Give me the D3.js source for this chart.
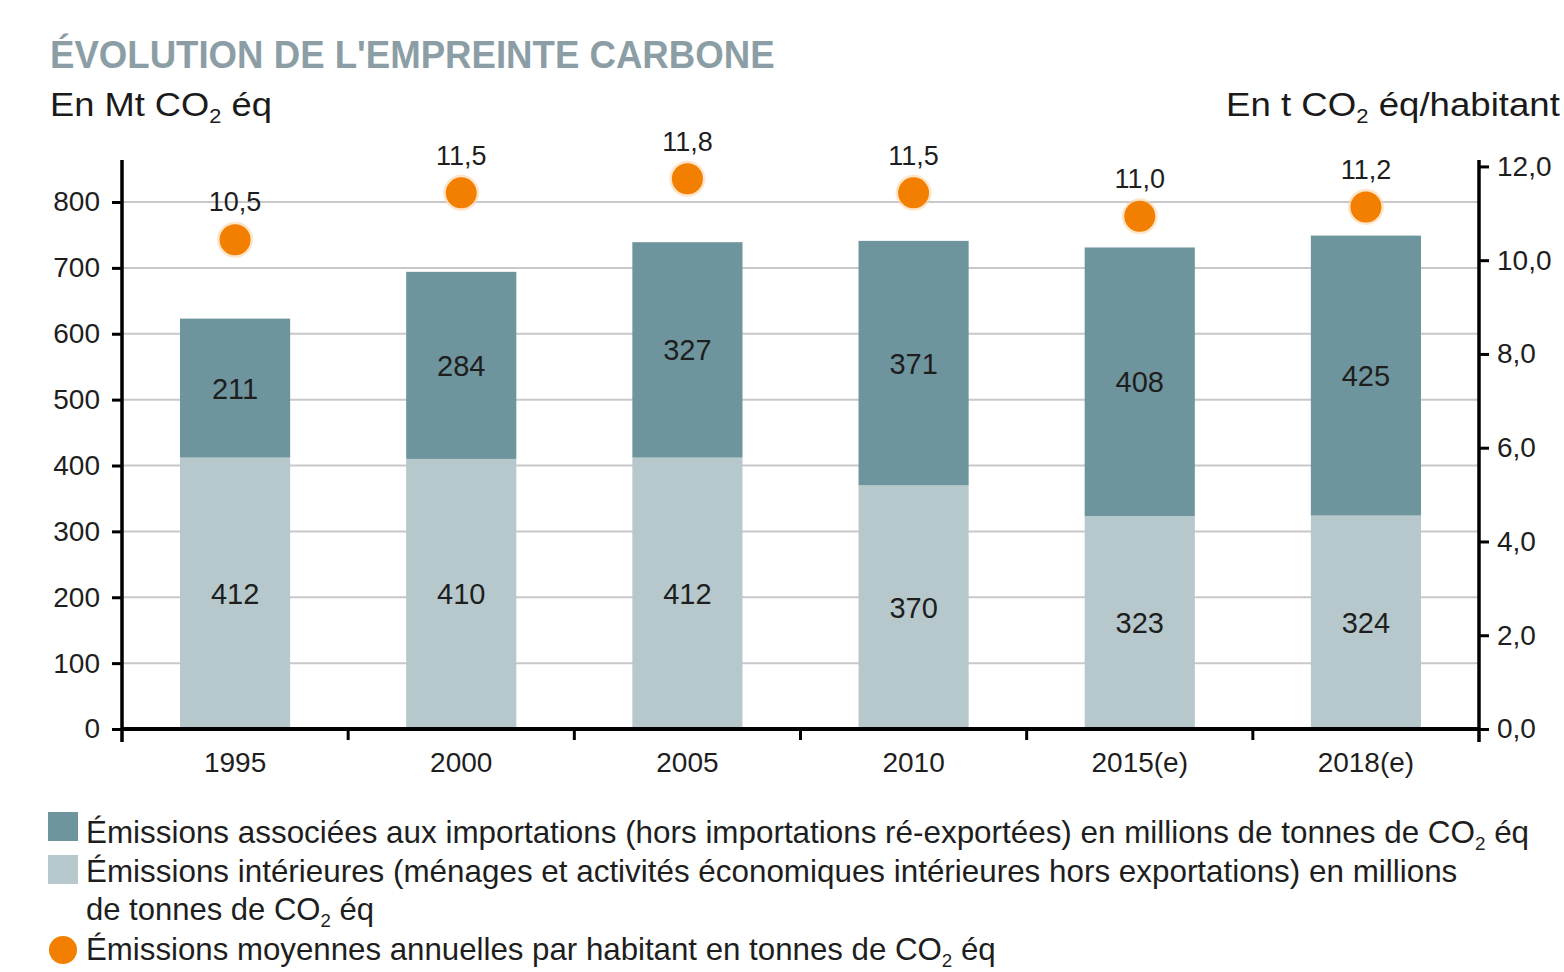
<!DOCTYPE html>
<html><head><meta charset="utf-8">
<script src="https://cdn.jsdelivr.net/npm/d3@7"></script>
<style>
html,body{margin:0;padding:0;background:#fff;}
svg{display:block;font-family:"Liberation Sans",Arial,sans-serif;}
</style></head>
<body>
<svg id="chart" width="1564" height="972"></svg>
<script>
// ---- data ----
const categories = ["1995", "2000", "2005", "2010", "2015(e)", "2018(e)"];
const importations = [211, 284, 327, 371, 408, 425];
const interieures = [412, 410, 412, 370, 323, 324];
const parHabitant = [10.5, 11.5, 11.8, 11.5, 11.0, 11.2];
const leftTicks = [0, 100, 200, 300, 400, 500, 600, 700, 800];
const rightTicks = [0, 2, 4, 6, 8, 10, 12];
const titleText = "ÉVOLUTION DE L'EMPREINTE CARBONE";
const legendLabels = [
  ["Émissions associées aux importations (hors importations ré-exportées) en millions de tonnes de CO", "2", " éq"],
  ["Émissions intérieures (ménages et activités économiques intérieures hors exportations) en millions"],
  ["de tonnes de CO", "2", " éq"],
  ["Émissions moyennes annuelles par habitant en tonnes de CO", "2", " éq"]
];

// ---- style ----
const colDark = "#6e959d", colLight = "#b6c8cc", colOrange = "#f27f00";
const colGrid = "#c8c8c8", colTitle = "#8c9ea5";

const svg = d3.select("#chart");
svg.append("rect").attr("width", 1564).attr("height", 972).attr("fill", "#fff");

const L = 122, R = 1479, Y0 = 729;
const fr = d3.formatLocale({decimal: ",", thousands: " ", grouping: [3], currency: ["", "€"]});
const f1 = fr.format(".1f");

const x = d3.scaleBand().domain(categories).range([L, R]).paddingInner(0.513).paddingOuter(0.2565);
const yL = d3.scaleLinear().domain([0, 800]).range([Y0, 202]);
const yR = d3.scaleLinear().domain([0, 12]).range([Y0, yL(854)]);

// text helper with subscript and horizontal fit
function richText(g, parts, size, weight, fill) {
  const t = g.append("text").attr("font-size", size).attr("font-weight", weight || "normal").attr("fill", fill || "#1a1a1a");
  parts.forEach((p, i) => {
    if (i % 2 === 1) {
      t.append("tspan").attr("font-size", size * 0.6).attr("dy", size * 0.22).text(p);
    } else {
      const ts = t.append("tspan").text(p);
      if (i > 0) ts.attr("dy", -size * 0.22);
    }
  });
  return t;
}
function fit(t, x0, yb, width, anchorRight) {
  const w = t.node().getComputedTextLength();
  const k = width / w;
  const tx = anchorRight ? x0 - width : x0;
  t.attr("transform", `translate(${tx},${yb}) scale(${k},1)`);
}

// title
const tt = richText(svg, [titleText], 38, "bold", colTitle);
fit(tt, 50, 68, 725);
// unit labels
const ul = richText(svg, ["En Mt CO", "2", " éq"], 34, "normal", "#1a1a1a");
fit(ul, 50, 116, 222);
const ur = richText(svg, ["En t CO", "2", " éq/habitant"], 34, "normal", "#1a1a1a");
fit(ur, 1560, 116, 334, true);

// gridlines
svg.append("g").selectAll("line").data(leftTicks.filter(d => d > 0)).join("line")
  .attr("x1", L).attr("x2", R).attr("y1", d => yL(d)).attr("y2", d => yL(d))
  .attr("stroke", colGrid).attr("stroke-width", 2);

// bars
const bars = svg.append("g");
categories.forEach((c, i) => {
  bars.append("rect").attr("x", x(c)).attr("width", x.bandwidth())
    .attr("y", yL(interieures[i])).attr("height", Y0 - yL(interieures[i])).attr("fill", colLight);
  bars.append("rect").attr("x", x(c)).attr("width", x.bandwidth())
    .attr("y", yL(interieures[i] + importations[i])).attr("height", yL(interieures[i]) - yL(interieures[i] + importations[i]))
    .attr("fill", colDark);
  bars.append("text").attr("x", x(c) + x.bandwidth() / 2).attr("y", yL(interieures[i] / 2))
    .attr("text-anchor", "middle").attr("dy", "0.36em").attr("font-size", 29).attr("fill", "#1e1e1e")
    .text(interieures[i]);
  bars.append("text").attr("x", x(c) + x.bandwidth() / 2).attr("y", yL(interieures[i] + importations[i] / 2))
    .attr("text-anchor", "middle").attr("dy", "0.36em").attr("font-size", 29).attr("fill", "#1e1e1e")
    .text(importations[i]);
});

// dots
const dots = svg.append("g");
categories.forEach((c, i) => {
  const cx = x(c) + x.bandwidth() / 2, cy = yR(parHabitant[i]) + 3;
  dots.append("circle").attr("cx", cx).attr("cy", cy).attr("r", 18).attr("fill", "#fbd3a6").attr("opacity", 0.6);
  dots.append("circle").attr("cx", cx).attr("cy", cy).attr("r", 15.5).attr("fill", colOrange);
  dots.append("text").attr("x", cx).attr("y", cy - 38).attr("dy", "0.36em").attr("text-anchor", "middle")
    .attr("font-size", 27).attr("fill", "#1e1e1e").text(f1(parHabitant[i]));
});

// left axis
const axL = svg.append("g").attr("transform", `translate(${L},0)`)
  .call(d3.axisLeft(yL).tickValues(leftTicks).tickSize(10).tickPadding(12).tickSizeOuter(0));
axL.select(".domain").remove();
axL.selectAll(".tick line").attr("stroke", "#000").attr("stroke-width", 3);
axL.selectAll(".tick text").attr("font-size", 28).attr("fill", "#1e1e1e").attr("font-family", "Liberation Sans, Arial, sans-serif");
svg.append("line").attr("x1", L).attr("x2", L).attr("y1", 160).attr("y2", 742).attr("stroke", "#000").attr("stroke-width", 3.5);

// right axis
const axR = svg.append("g").attr("transform", `translate(${R},0)`)
  .call(d3.axisRight(yR).tickValues(rightTicks).tickFormat(f1).tickSize(10).tickPadding(8).tickSizeOuter(0));
axR.select(".domain").remove();
axR.selectAll(".tick line").attr("stroke", "#000").attr("stroke-width", 3);
axR.selectAll(".tick text").attr("font-size", 28).attr("fill", "#1e1e1e").attr("font-family", "Liberation Sans, Arial, sans-serif");
svg.append("line").attr("x1", R).attr("x2", R).attr("y1", 160).attr("y2", 742).attr("stroke", "#000").attr("stroke-width", 3.5);

// x axis
svg.append("line").attr("x1", L).attr("x2", R).attr("y1", Y0).attr("y2", Y0).attr("stroke", "#000").attr("stroke-width", 4);
const step = x.step();
svg.append("g").selectAll("line").data(categories.slice(0, -1)).join("line")
  .attr("x1", d => x(d) + x.bandwidth() / 2 + step / 2).attr("x2", d => x(d) + x.bandwidth() / 2 + step / 2)
  .attr("y1", Y0).attr("y2", Y0 + 11).attr("stroke", "#000").attr("stroke-width", 3);
svg.append("g").selectAll("text").data(categories).join("text")
  .attr("x", d => x(d) + x.bandwidth() / 2).attr("y", 772).attr("text-anchor", "middle")
  .attr("font-size", 28).attr("fill", "#1e1e1e").text(d => d);

// legend
const lg = svg.append("g");
lg.append("rect").attr("x", 48).attr("y", 812).attr("width", 30).attr("height", 29).attr("fill", colDark);
lg.append("rect").attr("x", 48).attr("y", 855).attr("width", 30).attr("height", 29).attr("fill", colLight);
lg.append("circle").attr("cx", 63).attr("cy", 950).attr("r", 14).attr("fill", colOrange);
const legY = [843, 882, 920, 960];
const legW = [1444, 1372, 288, 910];
legendLabels.forEach((parts, i) => {
  const t = richText(lg, parts, 32, "normal", "#1e1e1e");
  fit(t, 86, legY[i], legW[i]);
});
</script>
</body></html>
